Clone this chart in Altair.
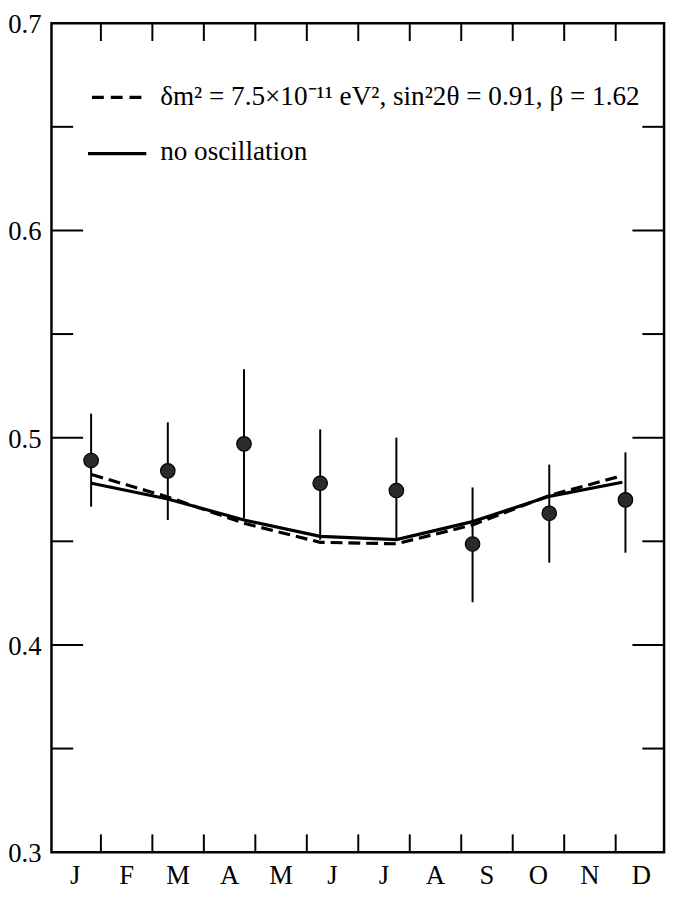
import altair as alt
import pandas as pd

# ---- data ----
months = ["J", "F", "M", "A", "M", "J", "J", "A", "S", "O", "N", "D"]
bin_x = [0.81, 2.30, 3.78, 5.26, 6.74, 8.22, 9.71, 11.19]
rate = [0.489, 0.484, 0.497, 0.478, 0.4745, 0.4487, 0.4635, 0.470]
rate_hi = [0.5116, 0.5074, 0.533, 0.504, 0.500, 0.476, 0.487, 0.4929]
rate_lo = [0.4667, 0.4603, 0.461, 0.4508, 0.451, 0.4206, 0.4397, 0.4445]

curve_x = [0.82, 2.30, 3.78, 5.26, 6.74, 8.22, 9.71, 11.13]
no_osc = [0.478, 0.4704, 0.4603, 0.4524, 0.4508, 0.4595, 0.4717, 0.4785]
osc = [0.4822, 0.4714, 0.4587, 0.4495, 0.4488, 0.4579, 0.4721, 0.4817]

y_major = [0.3, 0.4, 0.5, 0.6, 0.7]
y_labels = ["0.3", "0.4", "0.5", "0.6", "0.7"]
y_inner_major = [0.4, 0.5, 0.6]
y_minor = [0.35, 0.45, 0.55, 0.65]
x_bounds = list(range(1, 12))
x_label_pos = [i + 0.5 for i in range(12)]

legend_osc = "δm² = 7.5×10⁻¹¹ eV², sin²2θ = 0.91, β = 1.62"
legend_no = "no oscillation"

W, H = 620, 839
FONT = "Liberation Serif"

xs = alt.Scale(domain=[0.04, 11.94], nice=False, zero=False)
ys = alt.Scale(domain=[0.3, 0.7], nice=False, zero=False)

pts = pd.DataFrame({"x": bin_x, "r": rate, "hi": rate_hi, "lo": rate_lo})
curves = pd.DataFrame({"x": curve_x, "no": no_osc, "osc": osc})
xt = pd.DataFrame({"x": x_bounds})
ymaj = pd.DataFrame({"y": y_inner_major})
ymin = pd.DataFrame({"y": y_minor})
ylab = pd.DataFrame({"y": y_major, "t": y_labels})
xlab = pd.DataFrame({"x": x_label_pos, "t": months})

X = lambda f: alt.X(f, scale=xs, axis=None)
Y = lambda f: alt.Y(f, scale=ys, axis=None)

points = alt.Chart(pts).mark_point(
    filled=True, shape="circle", size=215, fill="#2a2a2a", stroke="black",
    strokeWidth=1.2, opacity=1
).encode(x=X("x:Q"), y=Y("r:Q"))

errbars = alt.Chart(pts).mark_rule(color="black", strokeWidth=2).encode(
    x=X("x:Q"), y=Y("lo:Q"), y2="hi:Q")

line_no = alt.Chart(curves).mark_line(color="black", strokeWidth=3.2).encode(
    x=X("x:Q"), y=Y("no:Q"))
line_osc = alt.Chart(curves).mark_line(color="black", strokeWidth=3.2,
                                       strokeDash=[12, 6]).encode(
    x=X("x:Q"), y=Y("osc:Q"))

# inward ticks
xt_top = alt.Chart(xt).mark_rule(color="black", strokeWidth=2).encode(
    x=X("x:Q"), y=alt.value(0), y2=alt.value(18))
xt_bot = alt.Chart(xt).mark_rule(color="black", strokeWidth=2).encode(
    x=X("x:Q"), y=alt.value(H - 18), y2=alt.value(H))
yt_l = alt.Chart(ymaj).mark_rule(color="black", strokeWidth=2).encode(
    y=Y("y:Q"), x=alt.value(0), x2=alt.value(32))
yt_r = alt.Chart(ymaj).mark_rule(color="black", strokeWidth=2).encode(
    y=Y("y:Q"), x=alt.value(W - 32), x2=alt.value(W))
ym_l = alt.Chart(ymin).mark_rule(color="black", strokeWidth=2).encode(
    y=Y("y:Q"), x=alt.value(0), x2=alt.value(22))
ym_r = alt.Chart(ymin).mark_rule(color="black", strokeWidth=2).encode(
    y=Y("y:Q"), x=alt.value(W - 22), x2=alt.value(W))

# tick labels
ytext = alt.Chart(ylab).mark_text(font=FONT, fontSize=27, align="right",
                                  baseline="middle", color="black", dy=2).encode(
    y=Y("y:Q"), x=alt.value(-10), text="t:N")
xtext = alt.Chart(xlab).mark_text(font=FONT, fontSize=27, align="center",
                                  baseline="top", color="black").encode(
    x=X("x:Q"), y=alt.value(H + 11), text="t:N")

# legend
one = alt.Data(values=[{"k": 1}])
leg_dash = alt.Chart(one).mark_rule(color="black", strokeWidth=3.2,
                                    strokeDash=[12, 7]).encode(
    x=alt.value(41), x2=alt.value(93), y=alt.value(75))
leg_solid = alt.Chart(one).mark_rule(color="black", strokeWidth=3.2).encode(
    x=alt.value(37), x2=alt.value(96), y=alt.value(132))
leg_t1 = alt.Chart(one).mark_text(font=FONT, fontSize=27.5, align="left",
                                  baseline="alphabetic", color="black").encode(
    x=alt.value(110), y=alt.value(83), text=alt.value(legend_osc))
leg_t2 = alt.Chart(one).mark_text(font=FONT, fontSize=27.5, align="left",
                                  baseline="alphabetic", color="black").encode(
    x=alt.value(110), y=alt.value(138), text=alt.value(legend_no))

chart = alt.layer(
    line_no, line_osc, errbars, points,
    xt_top, xt_bot, yt_l, yt_r, ym_l, ym_r,
    ytext, xtext,
    leg_dash, leg_solid, leg_t1, leg_t2,
).properties(
    width=W, height=H,
    autosize=alt.AutoSizeParams(type="none"),
    padding={"left": 44, "top": 10, "right": 5, "bottom": 41},
).configure(background="white").configure_view(stroke="black", strokeWidth=2.5)

chart.save("out.html", embed_options={"renderer": "svg", "actions": False})
